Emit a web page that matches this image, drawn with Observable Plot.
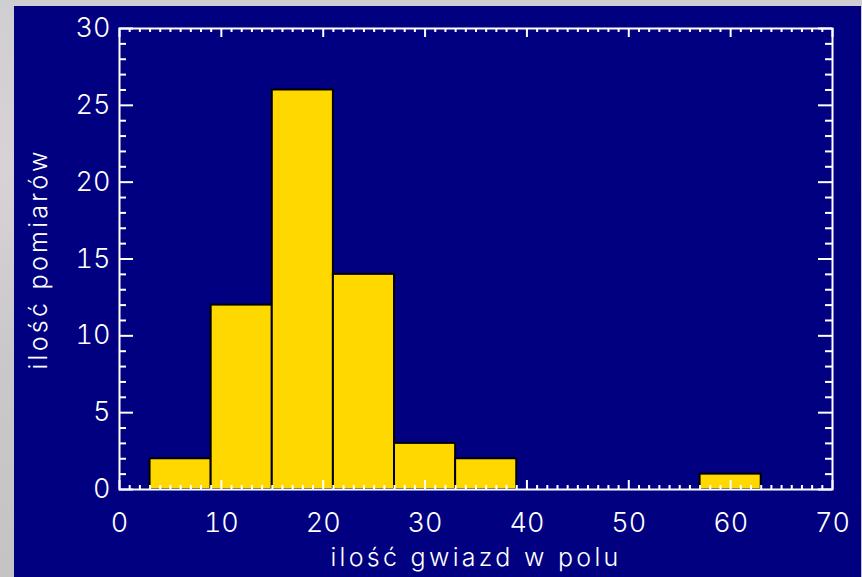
<!DOCTYPE html>
<html>
<head>
<meta charset="utf-8">
<script src="https://cdn.jsdelivr.net/npm/d3@7"></script>
<script src="https://cdn.jsdelivr.net/npm/@observablehq/plot@0.6"></script>
<style>
  html, body { margin: 0; padding: 0; width: 862px; height: 577px; overflow: hidden; }
  body { background: linear-gradient(180deg, #cfcfd2 0%, #d8d2d6 30%, #c9c9cb 60%, #c4c4c4 100%); position: relative; }
  #panel { position: absolute; left: 14px; top: 6px; width: 847px; height: 571px; background: #000080; }
  #panel svg text { font-weight: 300; }
</style>
</head>
<body>
<div id="panel"></div>
<script>
// Histogram bins (lower edge, upper edge) and counts
const binStart = [3, 9, 15, 21, 27, 33, 57];
const binEnd   = [9, 15, 21, 27, 33, 39, 63];
const counts   = [2, 12, 26, 14, 3, 2, 1];

const xTicks = [0, 10, 20, 30, 40, 50, 60, 70];
const yTicks = [0, 5, 10, 15, 20, 25, 30];
const xMinor = d3.range(0, 71, 1).filter(v => v % 10 !== 0);
const yMinor = d3.range(0, 31, 1).filter(v => v % 5 !== 0);

const xTitle = "ilość gwiazd w polu";
const yTitle = "ilość pomiarów";

const bins = counts.map((c, i) => ({x1: binStart[i], x2: binEnd[i], count: c}));

const W = 847, H = 571;
const mL = 105, mR = 29, mT = 22, mB = 88;
const pw = W - mL - mR, ph = H - mT - mB;
const font = "Inter, 'Open Sans', 'Liberation Sans', sans-serif";

const chart = Plot.plot({
  width: W,
  height: H,
  marginLeft: mL,
  marginRight: mR,
  marginTop: mT,
  marginBottom: mB,
  style: {background: "transparent", color: "white", fontFamily: font},
  x: {domain: [0, 70]},
  y: {domain: [0, 30]},
  marks: [
    Plot.rectY(bins, {x1: "x1", x2: "x2", y: "count", fill: "#FFD800", stroke: "black", strokeWidth: 2}),
    // bottom ticks (inward)
    Plot.tickX(xTicks, {x: d => d, stroke: "white", strokeWidth: 2, insetTop: ph - 9}),
    Plot.tickX(xMinor, {x: d => d, stroke: "white", strokeWidth: 2, insetTop: ph - 4}),
    // top ticks (inward)
    Plot.tickX(xTicks, {x: d => d, stroke: "white", strokeWidth: 2, insetBottom: ph - 9}),
    Plot.tickX(xMinor, {x: d => d, stroke: "white", strokeWidth: 2, insetBottom: ph - 4}),
    // left ticks
    Plot.tickY(yTicks, {y: d => d, stroke: "white", strokeWidth: 2, insetRight: pw - 14}),
    Plot.tickY(yMinor, {y: d => d, stroke: "white", strokeWidth: 2, insetRight: pw - 7}),
    // right ticks
    Plot.tickY(yTicks, {y: d => d, stroke: "white", strokeWidth: 2, insetLeft: pw - 14}),
    Plot.tickY(yMinor, {y: d => d, stroke: "white", strokeWidth: 2, insetLeft: pw - 7}),
    Plot.frame({stroke: "white", strokeWidth: 2}),
    Plot.axisX({ticks: xTicks, tickSize: 0, tickPadding: 23, fontSize: 27, fill: "white", label: null}),
    Plot.axisY({ticks: yTicks, tickSize: 0, tickPadding: 9, fontSize: 27, fill: "white", label: null}),
    Plot.text([xTitle], {frameAnchor: "bottom", lineAnchor: "middle", textAnchor: "middle", dy: 68, fontSize: 25, fill: "white"}),
    Plot.text([yTitle], {frameAnchor: "left", lineAnchor: "middle", textAnchor: "middle", dx: -81, rotate: -90, fontSize: 25, fill: "white"})
  ]
});
chart.style.position = "absolute";
chart.style.left = "0px";
chart.style.top = "0px";
// widen letter spacing of the axis titles (wide geometric face in the original)
chart.querySelectorAll("text").forEach(t => {
  if (t.textContent === xTitle || t.textContent === yTitle) t.setAttribute("letter-spacing", "3.3px");
});
document.getElementById("panel").appendChild(chart);
</script>
</body>
</html>
